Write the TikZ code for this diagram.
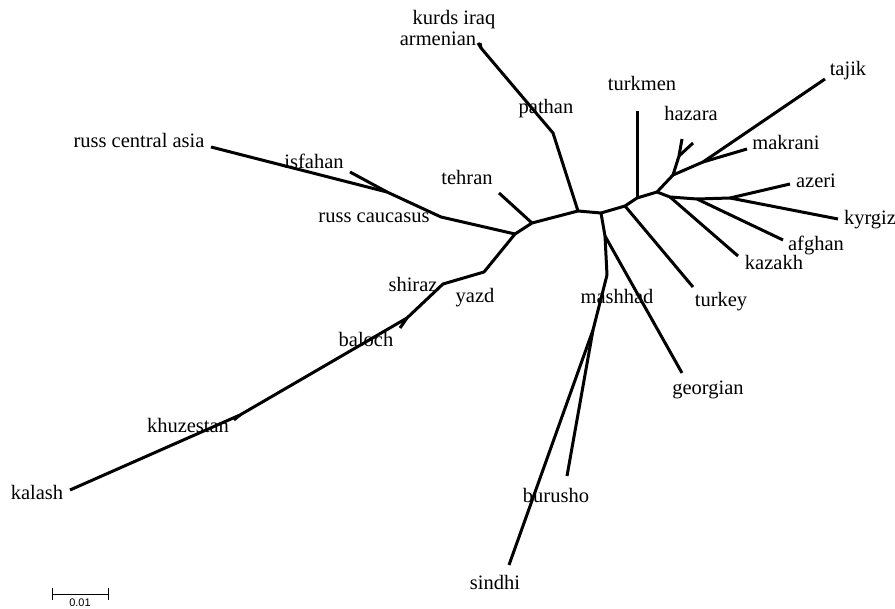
\documentclass[tikz,border=0pt]{standalone}
\usepackage{fontspec}
\setmainfont{Liberation Serif}
\setsansfont{Liberation Sans}
\usetikzlibrary{calc}
\def\drawbranch{\draw[branch]}
\def\taxon{\node[taxon]}

\begin{document}
\begin{tikzpicture}[x=1pt,y=-1pt,
  branch/.style={line width=3pt, line join=round},
  taxon/.style={anchor=base, inner sep=0pt, font=\fontsize{20.5}{24}\selectfont}]
\useasboundingbox (0,0) rectangle (895,609);

% ---------- the spine through the middle
\coordinate (nD) at (515,234); % russ caucasus / shiraz split
\coordinate (nA) at (532,223); % tehran comes off here
\coordinate (nB) at (578,211); % pathan comes off here
\coordinate (nC) at (601,213); % mashhad group
\coordinate (nE) at (625,206); % turkey
\coordinate (nF) at (637,198); % turkmen
\coordinate (nG) at (657,192); % the central asian fan
\drawbranch (nD) -- (nA) -- (nB) -- (nC) -- (nE) -- (nF) -- (nG);

% ---------- upper left: tehran, pathan, armenian
\coordinate (tehran) at (499,193);
\drawbranch (nA) -- (tehran);
\coordinate (pathan) at (553,133);
\coordinate (nKA) at (481,48);
\coordinate (armenian) at (478,43);
\coordinate (kurds) at (480,43);
\drawbranch (nB) -- (pathan) -- (nKA) -- (armenian);
\drawbranch (nKA) -- (kurds);

% ---------- left: the russ branches
\coordinate (russcauc) at (441,217);
\coordinate (nI) at (387,192);
\coordinate (isfahan) at (350,172);
\coordinate (russca) at (211,147);
\drawbranch (nD) -- (russcauc) -- (nI) -- (russca);
\drawbranch (nI) -- (isfahan);

% ---------- lower left: yazd down to kalash
\coordinate (yazd) at (484,272);
\coordinate (shiraz) at (443,284);
\coordinate (nBa) at (407,318);
\coordinate (baloch) at (400,328);
\coordinate (nKh) at (240,415);
\coordinate (khuzestan) at (234,420);
\coordinate (kalash) at (70,490);
\drawbranch (nD) -- (yazd) -- (shiraz) -- (nBa) -- (nKh) -- (kalash);
\drawbranch (nBa) -- (baloch);
\drawbranch (nKh) -- (khuzestan);

% ---------- bottom: mashhad, georgian, burusho, sindhi
\coordinate (nGe) at (605,236);
\coordinate (georgian) at (682,373);
\coordinate (mashhad) at (607,275);
\coordinate (nS) at (593,330);
\coordinate (burusho) at (567,476);
\coordinate (sindhi) at (509,565);
\drawbranch (nC) -- (nGe) -- (mashhad) -- (nS) -- (sindhi);
\drawbranch (nGe) -- (georgian);
\drawbranch (nS) -- (burusho);

% ---------- right: turkey, turkmen and the fan
\coordinate (turkey) at (693,287);
\coordinate (turkmen) at (637,111);
\drawbranch (nE) -- (turkey);
\drawbranch (nF) -- (turkmen);
\coordinate (nT) at (673,175); % tajik / makrani leave here
\coordinate (nH) at (679,156); % hazara fork
\coordinate (hazaraL) at (682,139);
\coordinate (hazaraR) at (693,143);
\drawbranch (nG) -- (nT) -- (nH) -- (hazaraL);
\drawbranch (nH) -- (hazaraR);
\coordinate (nTM) at (703,162);
\coordinate (tajik) at (825,79);
\coordinate (makrani) at (747,149);
\drawbranch (nT) -- (nTM) -- (tajik);
\drawbranch (nTM) -- (makrani);
\coordinate (nK1) at (670,197);
\coordinate (nK2) at (697,199);
\coordinate (nK3) at (730,198);
\coordinate (kazakh) at (738,256);
\coordinate (afghan) at (783,240);
\coordinate (azeri) at (790,184);
\coordinate (kyrgiz) at (838,219);
\drawbranch (nG) -- (nK1) -- (nK2) -- (nK3) -- (kyrgiz);
\drawbranch (nK1) -- (kazakh);
\drawbranch (nK2) -- (afghan);
\drawbranch (nK3) -- (azeri);

% ---------- labels
\taxon (Lkurds) at (454,25) {kurds iraq};
\taxon (Larmenian) at (438,46) {armenian};
\taxon (Lpathan) at (546,114) {pathan};
\taxon (Ltehran) at (467,185) {tehran};
\taxon (Lturkmen) at (642,91) {turkmen};
\taxon (Lhazara) at (691,121) {hazara};
\taxon (Ltajik) at (848,76) {tajik};
\taxon (Lmakrani) at (786,150) {makrani};
\taxon (Lazeri) at (816,188) {azeri};
\taxon (Lkyrgiz) at (870,225) {kyrgiz};
\taxon (Lafghan) at (816,251) {afghan};
\taxon (Lkazakh) at (774,270) {kazakh};
\taxon (Lturkey) at (721,307) {turkey};
\taxon (Lgeorgian) at (708,395) {georgian};
\taxon (Lmashhad) at (617,304) {mashhad};
\taxon (Lburusho) at (556,503) {burusho};
\taxon (Lsindhi) at (495,590) {sindhi};
\taxon (Lyazd) at (475,303) {yazd};
\taxon (Lshiraz) at (413,292) {shiraz};
\taxon (Lbaloch) at (366,347) {baloch};
\taxon (Lkhuzestan) at (188,433) {khuzestan};
\taxon (Lkalash) at (37,500) {kalash};
\taxon (Lrussca) at (139,148) {russ central asia};
\taxon (Lisfahan) at (314,169) {isfahan};
\taxon (Lrusscauc) at (374,223) {russ caucasus};

% ---------- scale bar
\coordinate (sbL) at (52,594);
\coordinate (sbR) at (108,594);
\draw[line width=1pt] (sbL) -- (sbR);
\draw[line width=1pt] ($ (sbL) + (0,-6) $) -- ($ (sbL) + (0,6) $);
\draw[line width=1pt] ($ (sbR) + (0,-6) $) -- ($ (sbR) + (0,6) $);
\node[anchor=north, inner sep=0pt, font=\sffamily\fontsize{11}{13}\selectfont] (sblabel) at (80,599) {0.01};
\end{tikzpicture}
\end{document}
